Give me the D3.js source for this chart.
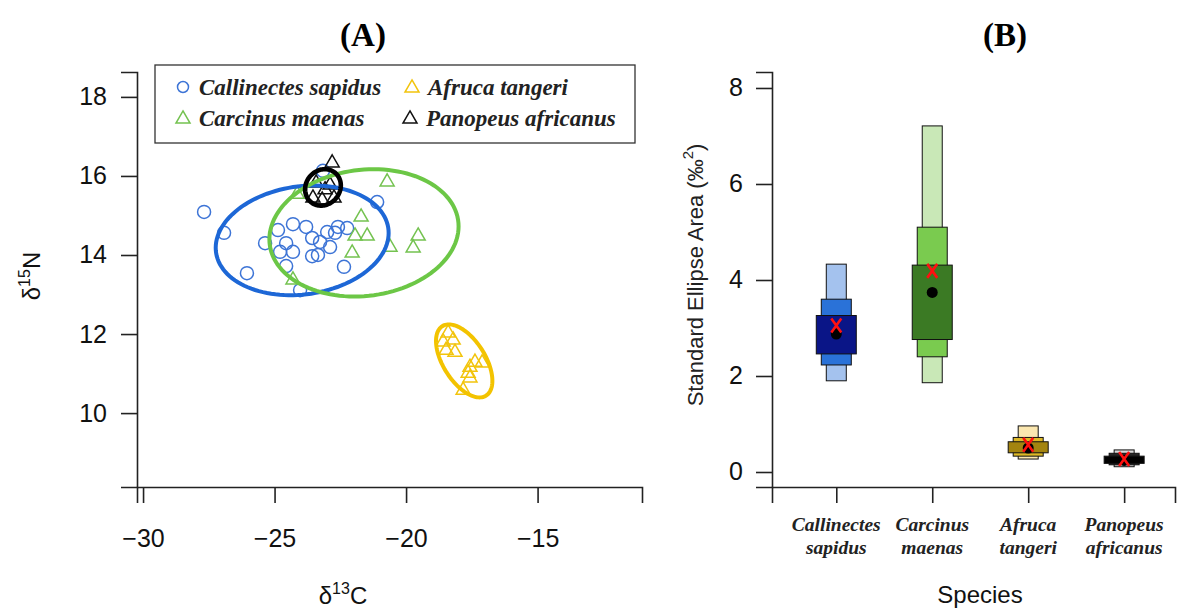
<!DOCTYPE html>
<html>
<head>
<meta charset="utf-8">
<script src="https://cdn.jsdelivr.net/npm/d3@7"></script>
<style>
  body { margin: 0; background: #fff; }
  svg { display: block; }
  .sans { font-family: "Liberation Sans", Arial, sans-serif; }
  .serif { font-family: "Liberation Serif", "Times New Roman", serif; }
</style>
</head>
<body>
<svg id="chart" width="1178" height="610"></svg>
<script>
// ---------- Panel A: isotope biplot data (δ13C, δ15N) ----------
const species = ["Callinectes sapidus", "Carcinus maenas", "Afruca tangeri", "Panopeus africanus"];

const callinectesD13C = [-27.68, -26.92, -26.05, -25.36, -24.87, -24.56, -24.30, -24.79, -24.30, -24.56, -23.80, -23.57,
                         -23.27, -23.00, -22.89, -23.57, -23.35, -22.70, -22.59, -22.24, -22.36, -21.10, -24.03, -23.16];
const callinectesD15N = [15.09, 14.56, 13.54, 14.30, 14.63, 14.30, 14.78, 14.08, 14.08, 13.72, 14.71, 14.43,
                         14.33, 14.58, 14.20, 13.97, 14.00, 14.56, 14.71, 14.68, 13.70, 15.34, 13.11, 16.13];

const carcinusD13C = [-20.72, -21.71, -21.94, -21.48, -22.05, -20.61, -19.54, -19.73, -24.30, -24.14];
const carcinusD15N = [15.85, 14.96, 14.48, 14.48, 14.05, 14.20, 14.48, 14.18, 13.37, 15.54];

const afrucaD13C = [-18.40, -18.59, -18.21, -18.48, -18.14, -17.38, -17.57, -17.11, -17.64, -17.57, -17.83];
const afrucaD15N = [12.03, 11.80, 11.85, 11.59, 11.54, 11.29, 11.16, 11.27, 11.01, 10.89, 10.58];

const panopeusD13C = [-22.81, -23.42, -22.89, -23.54, -23.19, -22.74, -23.08];
const panopeusD15N = [16.33, 15.82, 15.77, 15.44, 15.39, 15.44, 15.65];

// Group means and covariance entries used for the 95% ellipses
const ellipseMeanX = [-23.95, -21.60, -17.79, -23.16];
const ellipseMeanY = [14.37, 14.56, 11.32, 15.71];
const ellipseVarX  = [1.804, 2.159, 0.1916, 0.07695];
const ellipseVarY  = [0.3215, 0.4327, 0.1424, 0.03545];
const ellipseCovXY = [0.1029, 0.0983, -0.08995, 0.00569];
const chiSq95 = 5.991;

const xTicksA = [-30, -25, -20, -15];
const yTicksA = [10, 12, 14, 16, 18];

// ---------- Panel B: posterior Standard Ellipse Area summaries ----------
const seaLo95 = [1.90, 1.86, 0.27, 0.11];
const seaHi95 = [4.33, 7.21, 0.96, 0.46];
const seaLo75 = [2.23, 2.40, 0.33, 0.15];
const seaHi75 = [3.60, 5.10, 0.72, 0.39];
const seaLo50 = [2.46, 2.76, 0.40, 0.18];
const seaHi50 = [3.26, 4.31, 0.63, 0.33];
const seaMode = [2.875, 3.74, 0.50, 0.24];
const seaC    = [3.05, 4.19, 0.57, 0.27];
const yTicksB = [0, 2, 4, 6, 8];

// ---------- styling ----------
const pointColor   = ["#3d74d6", "#74c250", "#f2c40c", "#111111"];
const ellipseColor = ["#1d67d6", "#6cc746", "#f3c300", "#000000"];
const boxColors = [
  ["#a4c2ee", "#2a72d8", "#0a1587"],
  ["#c9e8b7", "#7acb4f", "#3b7a24"],
  ["#fbe7b0", "#ddb826", "#a3840f"],
  ["#d8d8d8", "#262626", "#000000"]
];
const boxWidths = [20, 30, 40];

const svg = d3.select("#chart");

// ---------- Panel A ----------
const xA = d3.scaleLinear().domain([-30.23, -11.03]).range([137, 642]);
const yA = d3.scaleLinear().domain([8.13, 18.63]).range([487, 72]);

const gA = svg.append("g");

const axA_x = gA.append("g").attr("transform", `translate(0,${yA.range()[0]})`)
  .call(d3.axisBottom(xA).tickValues(xTicksA).tickSizeOuter(0).tickSize(16).tickPadding(26)
        .tickFormat(d => d3.format("d")(d).replace("-", "\u2212")));
const axA_y = gA.append("g").attr("transform", `translate(${xA.range()[0]},0)`)
  .call(d3.axisLeft(yA).tickValues(yTicksA).tickSizeOuter(0).tickSize(16).tickPadding(14));

[axA_x, axA_y].forEach(ax => {
  ax.selectAll("path.domain").attr("stroke", "#222").attr("stroke-width", 1.6);
  ax.selectAll(".tick line").attr("stroke", "#222").attr("stroke-width", 1.6);
  ax.selectAll(".tick text").attr("class", "sans").attr("font-size", 25).attr("fill", "#111");
});

// triangle symbol (open, apex up) centred on its centroid
function triPath(cx, cy, s) {
  const h = s * Math.sqrt(3) / 2;
  return `M${cx},${cy - 2 * h / 3}L${cx + s / 2},${cy + h / 3}L${cx - s / 2},${cy + h / 3}Z`;
}

const groupsX = [callinectesD13C, carcinusD13C, afrucaD13C, panopeusD13C];
const groupsY = [callinectesD15N, carcinusD15N, afrucaD15N, panopeusD15N];

const ptsLayer = gA.append("g");
groupsX.forEach((xs, gi) => {
  const pts = xs.map((x, i) => ({ x, y: groupsY[gi][i] }));
  if (gi === 0) {
    ptsLayer.selectAll(null).data(pts).enter().append("circle")
      .attr("cx", d => xA(d.x)).attr("cy", d => yA(d.y)).attr("r", 6.5)
      .attr("fill", "none").attr("stroke", pointColor[gi]).attr("stroke-width", 1.5);
  } else {
    ptsLayer.selectAll(null).data(pts).enter().append("path")
      .attr("d", d => triPath(xA(d.x), yA(d.y), 14))
      .attr("fill", "none").attr("stroke", pointColor[gi]).attr("stroke-width", 1.5);
  }
});

// 95% ellipses from mean and covariance (Cholesky factor)
const ellLine = d3.line().x(d => xA(d[0])).y(d => yA(d[1])).curve(d3.curveLinearClosed);
const ellLayer = gA.append("g");
species.forEach((s, i) => {
  const r = Math.sqrt(chiSq95);
  const a = Math.sqrt(ellipseVarX[i]);
  const b = ellipseCovXY[i] / a;
  const c = Math.sqrt(ellipseVarY[i] - b * b);
  const pts = d3.range(0, 360, 3).map(deg => {
    const t = deg * Math.PI / 180;
    const ct = Math.cos(t), st = Math.sin(t);
    return [ellipseMeanX[i] + r * a * ct, ellipseMeanY[i] + r * (b * ct + c * st)];
  });
  ellLayer.append("path").attr("d", ellLine(pts))
    .attr("fill", "none").attr("stroke", ellipseColor[i])
    .attr("stroke-width", i === 3 ? 4.6 : 4);
});

// legend
const leg = gA.append("g");
leg.append("rect").attr("x", 155).attr("y", 65).attr("width", 480).attr("height", 78)
  .attr("fill", "#fff").attr("stroke", "#333").attr("stroke-width", 1.3);
const legPos = [[183, 87], [183, 118], [412, 87], [410, 118]];
species.forEach((s, i) => {
  const [lx, ly] = legPos[i];
  if (i === 0) {
    leg.append("circle").attr("cx", lx).attr("cy", ly).attr("r", 5.5)
      .attr("fill", "none").attr("stroke", pointColor[i]).attr("stroke-width", 1.5);
  } else {
    leg.append("path").attr("d", triPath(lx, ly + 1, 14))
      .attr("fill", "none").attr("stroke", pointColor[i]).attr("stroke-width", 1.5);
  }
  leg.append("text").attr("class", "serif").attr("x", lx + 16).attr("y", ly + 8)
    .attr("font-size", 23).attr("font-weight", "bold").attr("font-style", "italic")
    .attr("fill", "#222").text(s);
});

// titles and axis labels
gA.append("text").attr("class", "serif").attr("x", 363).attr("y", 46)
  .attr("text-anchor", "middle").attr("font-size", 33).attr("font-weight", "bold").text("(A)");

const xLabA = gA.append("text").attr("class", "sans").attr("x", 343).attr("y", 604)
  .attr("text-anchor", "middle").attr("font-size", 24).attr("fill", "#111");
xLabA.append("tspan").text("\u03b4");
xLabA.append("tspan").attr("font-size", 16).attr("dy", -10).text("13");
xLabA.append("tspan").attr("dy", 10).text("C");

const yLabA = gA.append("text").attr("class", "sans").attr("transform", "translate(40,276) rotate(-90)")
  .attr("text-anchor", "middle").attr("font-size", 24).attr("fill", "#111");
yLabA.append("tspan").text("\u03b4");
yLabA.append("tspan").attr("font-size", 16).attr("dy", -10).text("15");
yLabA.append("tspan").attr("dy", 10).text("N");

// ---------- Panel B ----------
const xB = d3.scaleLinear().domain([-0.67, 3.53]).range([772, 1175]);
const yB = d3.scaleLinear().domain([-0.3125, 8.333]).range([487, 72]);
const gB = svg.append("g");

const axB_x = gB.append("g").attr("transform", `translate(0,${yB.range()[0]})`)
  .call(d3.axisBottom(xB).tickValues(d3.range(species.length)).tickSizeOuter(0).tickSize(16).tickFormat(""));
const axB_y = gB.append("g").attr("transform", `translate(${xB.range()[0]},0)`)
  .call(d3.axisLeft(yB).tickValues(yTicksB).tickSizeOuter(0).tickSize(16).tickPadding(13));
[axB_x, axB_y].forEach(ax => {
  ax.selectAll("path.domain").attr("stroke", "#222").attr("stroke-width", 1.6);
  ax.selectAll(".tick line").attr("stroke", "#222").attr("stroke-width", 1.6);
  ax.selectAll(".tick text").attr("class", "sans").attr("font-size", 25).attr("fill", "#111");
});

// two-line species labels
species.forEach((s, i) => {
  const parts = s.split(" ");
  const t = gB.append("text").attr("class", "serif").attr("text-anchor", "middle")
    .attr("font-size", 19.5).attr("font-weight", "bold").attr("font-style", "italic").attr("fill", "#222");
  t.append("tspan").attr("x", xB(i)).attr("y", 531).text(parts[0]);
  t.append("tspan").attr("x", xB(i)).attr("y", 554).text(parts[1]);
});

// credible-interval boxes: 95% (narrow, light) → 50% (wide, dark)
const ciLo = [seaLo95, seaLo75, seaLo50];
const ciHi = [seaHi95, seaHi75, seaHi50];
species.forEach((s, i) => {
  const cx = xB(i);
  [0, 1, 2].forEach(k => {
    const w = boxWidths[k];
    gB.append("rect")
      .attr("x", cx - w / 2).attr("width", w)
      .attr("y", yB(ciHi[k][i])).attr("height", yB(ciLo[k][i]) - yB(ciHi[k][i]))
      .attr("fill", boxColors[i][k]).attr("stroke", "#111").attr("stroke-width", 1);
  });
  gB.append("circle").attr("cx", cx).attr("cy", yB(seaMode[i])).attr("r", 5.5).attr("fill", "#000");
  const my = yB(seaC[i]);
  gB.append("path")
    .attr("d", `M${cx - 5},${my - 7}L${cx + 5},${my + 7}M${cx + 5},${my - 7}L${cx - 5},${my + 7}`)
    .attr("stroke", "#ff1010").attr("stroke-width", 2.6).attr("fill", "none");
});

gB.append("text").attr("class", "serif").attr("x", 1005).attr("y", 46)
  .attr("text-anchor", "middle").attr("font-size", 33).attr("font-weight", "bold").text("(B)");

gB.append("text").attr("class", "sans").attr("x", 980).attr("y", 603)
  .attr("text-anchor", "middle").attr("font-size", 24).attr("fill", "#111").text("Species");

const yLabB = gB.append("text").attr("class", "sans").attr("transform", "translate(703,275) rotate(-90)")
  .attr("text-anchor", "middle").attr("font-size", 22).attr("fill", "#222");
yLabB.append("tspan").text("Standard Ellipse Area (\u2030");
yLabB.append("tspan").attr("font-size", 15).attr("dy", -10).text("2");
yLabB.append("tspan").attr("dy", 10).text(")");
</script>
</body>
</html>
